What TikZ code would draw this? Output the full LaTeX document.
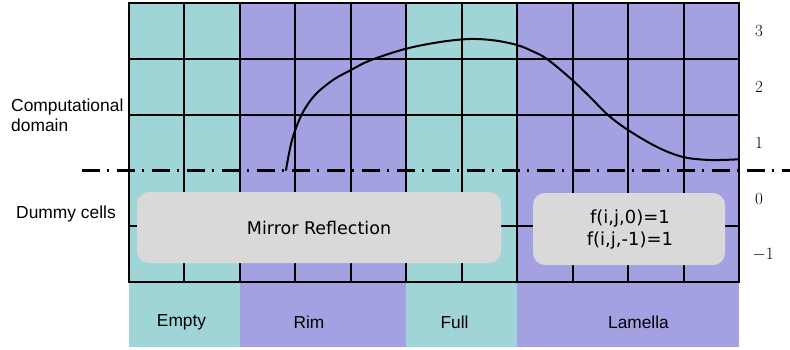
\documentclass[tikz,border=0pt]{standalone}
\usepackage{fontspec}
\newfontfamily\labelfont{Liberation Sans}
\newfontfamily\notefont{DejaVu Sans}
\definecolor{cellteal}{HTML}{A0D5D8}
\definecolor{cellpurple}{HTML}{A3A1E1}
\definecolor{notegray}{HTML}{D9D9D9}

\tikzset{
  gridline/.style={line width=2pt, black, line cap=rect},
  interface/.style={line width=2.6pt, black, dash pattern=on 18pt off 6.5pt on 2.5pt off 8pt},
  profile/.style={line width=2pt, black, line cap=round},
  notebox/.style={fill=notegray, rounded corners=12pt, inner sep=0pt},
  sidelabel/.style={font=\labelfont\fontsize{17.4}{20.5}\selectfont, align=left, anchor=west, inner sep=0pt},
  bandlabel/.style={font=\labelfont\fontsize{17.3}{20}\selectfont, inner sep=0pt},
  levellabel/.style={font=\fontsize{17}{20}\selectfont, inner sep=0pt},
}

\begin{document}
\begin{tikzpicture}[x=1pt, y=-1pt]
\useasboundingbox (0,0) rectangle (790,350);

% cell regions (grid part and the legend band below it)
\fill[cellteal]   (129,3)    rectangle (239.9,347);
\fill[cellpurple] (239.9,3)  rectangle (406.35,347);
\fill[cellteal]   (406.35,3) rectangle (517.15,347);
\fill[cellpurple] (517.15,3) rectangle (739,347);

% cell grid: 11 columns, 5 rows (the row boundary at level 1/0 is the interface line)
\foreach \i in {1,...,10}
  \draw[gridline] ({129+\i*55.45},3) -- ({129+\i*55.45},282);
\foreach \j in {1,2,4}
  \draw[gridline] (129,{3+\j*55.8}) -- (739,{3+\j*55.8});
\draw[gridline, line join=miter] (129,3) rectangle (739,282);

% boundary between computational domain and dummy cells
\coordinate (ifaceL) at (82,170.4);
\coordinate (ifaceR) at (790,170.4);
\draw[interface] (ifaceL) -- (ifaceR);

% free-surface profile
\draw[profile] plot[smooth, tension=0.55] coordinates {
  (286,170) (292,140) (302,114) (315,95) (333,80) (350,70.5)
  (370,60.5) (405,49) (440,42) (470,39) (495,40.5) (517,45)
  (532,51) (547,59) (570,78) (590,97) (608,115) (628,130)
  (657,147) (683,157) (710,160) (739,159.3)};

% boundary-condition notes in the dummy cells
\node[notebox, minimum width=364pt, minimum height=71pt] (mirror) at (319,227.5) {};
\node[font=\notefont\fontsize{17.5}{21}\selectfont] (mirrortext) at (319,228) {Mirror Reflection};
\node[notebox, minimum width=192pt, minimum height=72pt] (fixed) at (629,229) {};
\node[font=\notefont\fontsize{18}{22}\selectfont, align=center] (fixedtext) at (630,230) {f(i,j,0)=1\\f(i,j,-1)=1};

% region labels on the left
\node[sidelabel] (compdom) at (11,115.5) {Computational\\domain};
\node[sidelabel] (dummy) at (16,214) {Dummy cells};

% legend band labels
\node[bandlabel] (empty) at (181.5,322.5) {Empty};
\node[bandlabel] (rim) at (309,322.5) {Rim};
\node[bandlabel] (full) at (454.5,322.5) {Full};
\node[bandlabel] (lamella) at (638.5,322.5) {Lamella};

% layer indices
\node[levellabel] (k3) at (759,31) {3};
\node[levellabel] (k2) at (759,87) {2};
\node[levellabel] (k1) at (759,143) {1};
\node[levellabel] (k0) at (759,199) {0};
\node[levellabel] (km1) at (763,255) {$-1$};
\end{tikzpicture}
\end{document}
